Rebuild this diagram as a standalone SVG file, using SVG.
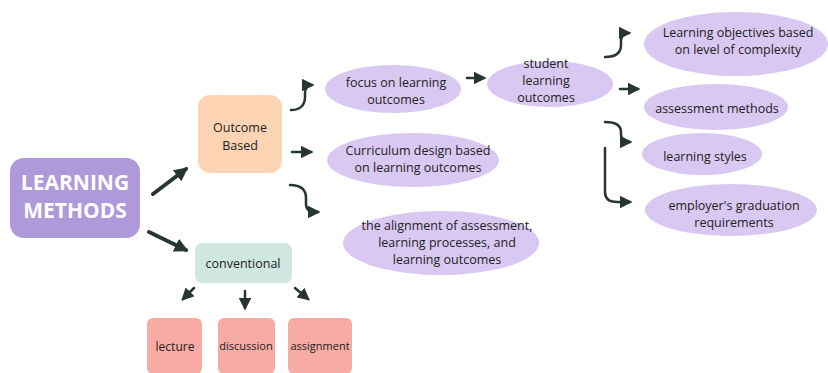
<svg xmlns="http://www.w3.org/2000/svg" width="828" height="373" viewBox="0 0 828 373">
<defs>
<style>
.t{font-family:"Open Sans","Noto Sans",sans-serif;font-size:12.5px;fill:#222222;text-anchor:middle}
.big{font-family:"Open Sans","Noto Sans",sans-serif;font-size:21px;font-weight:bold;fill:#ffffff;text-anchor:middle}
.oval{fill:#d9c8f2}
.c{fill:none;stroke:#27362f;stroke-width:2.5;stroke-linecap:round;stroke-linejoin:round}
.ct{fill:none;stroke:#27362f;stroke-width:4;stroke-linecap:round}
</style>
<marker id="ah" viewBox="0 0 10 10" refX="8" refY="5" markerWidth="5" markerHeight="5" orient="auto" markerUnits="strokeWidth">
<path d="M0,0 L10,5 L0,10 z" fill="#27362f"/>
</marker>
<marker id="ahb" viewBox="0 0 10 10" refX="8" refY="5" markerWidth="3.5" markerHeight="3.5" orient="auto" markerUnits="strokeWidth">
<path d="M0,0 L10,5 L0,10 z" fill="#27362f"/>
</marker>
</defs>
<rect width="828" height="373" fill="#ffffff"/>

<g id="connectors">
<path class="ct" d="M153,194 L186,169" marker-end="url(#ahb)"/>
<path class="ct" d="M149,232 L186,250" marker-end="url(#ahb)"/>
<path class="c" d="M291,110 Q304,110 305,98 L305,92 Q306,85 312,85" marker-end="url(#ah)"/>
<path class="c" d="M292,152 L311,152" marker-end="url(#ah)"/>
<path class="c" d="M290,185 Q306,185 306,198 L306,204 Q306,212 316,212 L318,212" marker-end="url(#ah)"/>
<path class="c" d="M467,78 L484,78" marker-end="url(#ah)"/>
<path class="c" d="M605,57 Q621,57 621,45 L621,40 Q622,33 629,33" marker-end="url(#ah)"/>
<path class="c" d="M620,89 L638,89" marker-end="url(#ah)"/>
<path class="c" d="M605,122 Q621,122 621,132 L621,135 Q622,142 630,142" marker-end="url(#ah)"/>
<path class="c" d="M605,148 L605,192 Q605,202 617,202 L630,202" marker-end="url(#ah)"/>
<path class="c" d="M194,288 L183,299" marker-end="url(#ah)"/>
<path class="c" d="M245,291 L245,308" marker-end="url(#ah)"/>
<path class="c" d="M295,288 L308,299" marker-end="url(#ah)"/>
</g>

<g id="learning-methods">
<rect x="10" y="158" width="130" height="80" rx="14" fill="#ae99db"/>
<text class="big" x="75" y="190">LEARNING</text>
<text class="big" x="75" y="218">METHODS</text>
</g>

<g id="outcome-based">
<rect x="198" y="95" width="84" height="78" rx="12" fill="#fcd4b4"/>
<text class="t" x="240" y="132">Outcome</text>
<text class="t" x="240" y="150">Based</text>
</g>

<g id="focus">
<ellipse class="oval" cx="393" cy="89" rx="68" ry="24"/>
<text class="t" x="396" y="87">focus on learning</text>
<text class="t" x="396" y="104">outcomes</text>
</g>

<g id="student">
<ellipse class="oval" cx="550" cy="84" rx="63" ry="23"/>
<text class="t" x="546" y="68">student</text>
<text class="t" x="546" y="85">learning</text>
<text class="t" x="546" y="102">outcomes</text>
</g>

<g id="curriculum">
<ellipse class="oval" cx="413" cy="160" rx="86" ry="27"/>
<text class="t" x="418" y="155">Curriculum design based</text>
<text class="t" x="418" y="172">on learning outcomes</text>
</g>

<g id="alignment">
<ellipse class="oval" cx="441" cy="243" rx="98" ry="32"/>
<text class="t" x="447" y="230">the alignment of assessment,</text>
<text class="t" x="447" y="247">learning processes, and</text>
<text class="t" x="447" y="264">learning outcomes</text>
</g>

<g id="objectives">
<ellipse class="oval" cx="736" cy="44" rx="92" ry="32"/>
<text class="t" x="738" y="37">Learning objectives based</text>
<text class="t" x="738" y="54">on level of complexity</text>
</g>

<g id="assessment">
<ellipse class="oval" cx="716" cy="107" rx="72" ry="23"/>
<text class="t" x="717" y="113">assessment methods</text>
</g>

<g id="styles">
<ellipse class="oval" cx="702" cy="154" rx="60" ry="21"/>
<text class="t" x="705" y="161">learning styles</text>
</g>

<g id="employer">
<ellipse class="oval" cx="731" cy="210" rx="86" ry="26"/>
<text class="t" x="734" y="210">employer's graduation</text>
<text class="t" x="734" y="227">requirements</text>
</g>

<g id="conventional">
<rect x="195" y="243" width="97" height="40" rx="7" fill="#cfe7e0"/>
<text class="t" x="243" y="268">conventional</text>
</g>

<g id="lecture">
<rect x="147" y="318" width="55" height="56" rx="6" fill="#f7aba4"/>
<text class="t" x="175" y="351" style="font-size:12px">lecture</text>
</g>

<g id="discussion">
<rect x="218" y="318" width="57" height="56" rx="6" fill="#f7aba4"/>
<text class="t" x="246" y="350" style="font-size:11px">discussion</text>
</g>

<g id="assignment">
<rect x="288" y="318" width="64" height="56" rx="6" fill="#f7aba4"/>
<text class="t" x="320" y="350" style="font-size:11px">assignment</text>
</g>
</svg>
